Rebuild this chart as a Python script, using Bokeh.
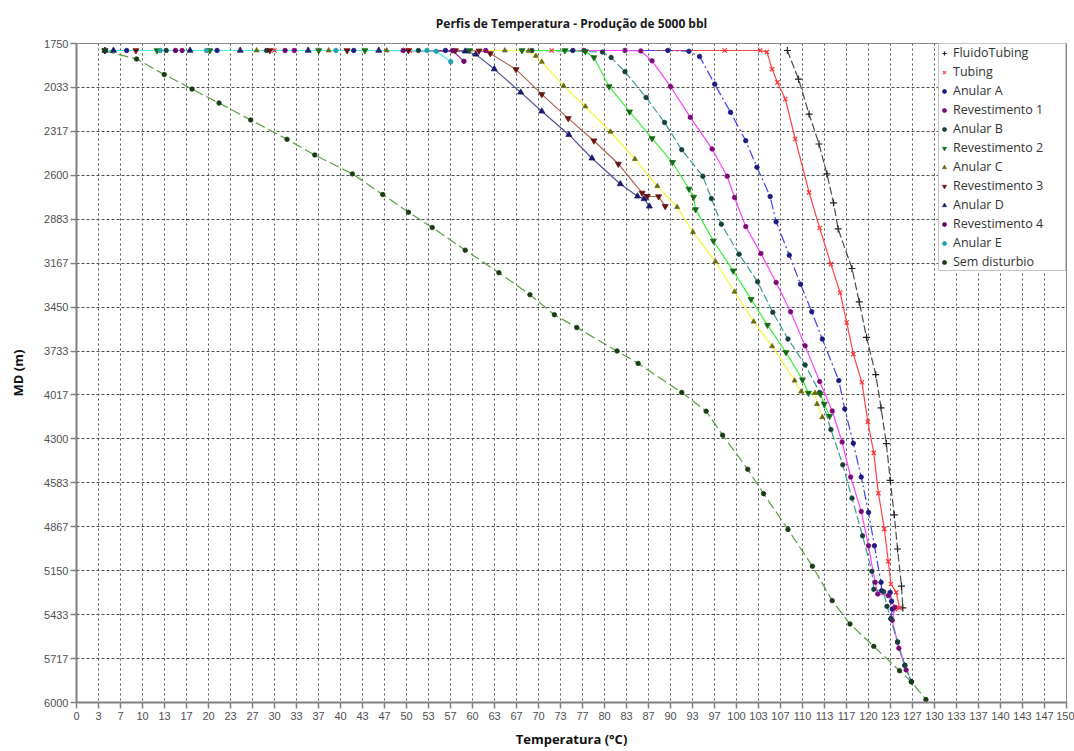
from bokeh.plotting import figure
from bokeh.models import FixedTicker, Legend, LegendItem, Range1d
from bokeh.embed import file_html
from bokeh.resources import INLINE

# ---------------- data (temperature in °C, MD in m) ----------------
fluido_T = [107.7, 109.4, 111.0, 112.5, 113.7, 114.7, 115.4, 117.5, 118.6, 119.7, 121.1, 121.9, 122.7, 123.3, 123.9, 124.4, 125.0, 125.2]
fluido_MD = [1795, 1980, 2205, 2398, 2591, 2778, 2946, 3201, 3416, 3645, 3886, 4100, 4330, 4567, 4790, 5010, 5250, 5390]

tubing_T = [4.3, 30.0, 50.5, 72.0, 98.2, 103.6, 104.6, 105.4, 106.2, 107.4, 108.9, 111.0, 112.6, 114.3, 115.7, 116.7, 117.7, 119.0, 119.9, 120.8, 121.5, 122.4, 123.0, 123.4, 124.2, 124.7, 124.0]
tubing_MD = [1795, 1795, 1795, 1795, 1795, 1795, 1804, 1915, 2001, 2108, 2366, 2710, 2940, 3173, 3356, 3549, 3753, 3935, 4190, 4390, 4650, 4880, 5090, 5236, 5290, 5390, 5398]

anularA_T = [4.3, 7.6, 21.3, 42.0, 55.9, 75.2, 89.6, 92.8, 94.4, 96.7, 99.1, 101.4, 103.1, 105.1, 106.0, 108.0, 109.7, 111.4, 113.0, 115.5, 116.4, 117.7, 118.9, 120.0, 120.9, 121.9, 122.0, 123.3, 123.5, 123.6, 123.4, 124.4, 125.5, 126.5]
anularA_MD = [1795, 1795, 1795, 1795, 1795, 1795, 1795, 1800, 1834, 2012, 2194, 2377, 2548, 2737, 2900, 3115, 3302, 3480, 3656, 3924, 4107, 4328, 4546, 4774, 4989, 5225, 5279, 5290, 5347, 5397, 5460, 5610, 5760, 5866]

rev1_T = [4.3, 16.0, 33.0, 62.0, 76.9, 83.1, 85.5, 87.2, 90.0, 93.0, 96.3, 98.6, 99.7, 101.4, 103.7, 106.0, 108.2, 110.4, 112.6, 114.5, 116.0, 117.3, 118.9, 120.0, 121.0, 121.4, 123.0, 124.0, 123.6, 124.6, 125.7]
rev1_MD = [1795, 1795, 1795, 1795, 1795, 1795, 1798, 1862, 2027, 2226, 2430, 2606, 2743, 2931, 3104, 3291, 3480, 3700, 3930, 4120, 4320, 4546, 4768, 4989, 5225, 5300, 5310, 5386, 5470, 5650, 5790]

anularB_T = [4.3, 13.6, 28.8, 51.8, 69.0, 79.7, 81.0, 83.1, 86.3, 89.1, 91.7, 94.9, 96.2, 97.7, 100.4, 103.2, 105.5, 107.8, 110.4, 112.6, 114.3, 116.1, 117.5, 119.1, 120.5, 120.8, 122.3, 122.8, 123.4, 124.4, 125.5, 126.5]
anularB_MD = [1795, 1795, 1795, 1795, 1795, 1805, 1840, 1932, 2098, 2259, 2435, 2606, 2750, 2915, 3109, 3287, 3484, 3656, 3823, 4000, 4240, 4467, 4682, 4925, 5154, 5270, 5285, 5380, 5460, 5610, 5760, 5866]

rev2_T = [4.3, 12.2, 20.2, 36.7, 43.7, 59.5, 67.5, 74.0, 77.1, 78.4, 80.7, 83.8, 87.2, 90.3, 92.8, 93.5, 93.8, 96.5, 99.5, 102.2, 104.7, 107.5, 110.0, 110.9, 112.7, 113.3, 114.1]
rev2_MD = [1795, 1795, 1795, 1795, 1795, 1795, 1795, 1795, 1801, 1840, 2027, 2190, 2362, 2516, 2688, 2740, 2820, 3023, 3216, 3399, 3566, 3742, 3918, 4004, 4010, 4075, 4154]

anularC_T = [4.3, 27.3, 38.2, 47.0, 64.9, 68.5, 69.6, 70.5, 73.8, 77.1, 80.9, 84.6, 88.0, 91.0, 93.4, 96.8, 99.7, 102.6, 105.4, 108.8, 109.8, 111.9, 112.2, 113.0]
anularC_MD = [1795, 1795, 1795, 1795, 1795, 1797, 1830, 1868, 2023, 2156, 2319, 2495, 2670, 2805, 2966, 3156, 3351, 3544, 3703, 3924, 3995, 4004, 4075, 4160]

rev3_T = [4.3, 9.0, 29.3, 41.0, 50.3, 57.4, 61.0, 62.7, 66.6, 70.5, 74.5, 78.4, 82.1, 85.7, 86.5, 88.2, 89.2]
rev3_MD = [1795, 1795, 1795, 1795, 1795, 1795, 1797, 1814, 1917, 2078, 2233, 2377, 2527, 2714, 2735, 2737, 2800]

anularD_T = [4.3, 5.6, 17.2, 24.8, 35.1, 45.8, 58.9, 60.5, 63.3, 67.3, 70.5, 74.6, 78.1, 82.4, 85.0, 86.0, 86.8]
anularD_MD = [1795, 1795, 1795, 1795, 1795, 1795, 1800, 1820, 1915, 2065, 2187, 2338, 2490, 2656, 2735, 2752, 2800]

rev4_T = [4.3, 15.0, 31.6, 49.5, 57.0, 58.7]
rev4_MD = [1795, 1795, 1795, 1795, 1797, 1865]

anularE_T = [4.3, 12.7, 19.7, 39.3, 53.1, 54.5, 56.7]
anularE_MD = [1795, 1795, 1795, 1795, 1795, 1800, 1868]

semdist_T = [4.3, 9.1, 13.3, 17.5, 21.6, 26.4, 31.9, 36.1, 41.8, 46.4, 50.3, 53.9, 58.9, 64.0, 68.7, 72.4, 75.8, 81.9, 85.1, 91.7, 95.4, 97.9, 101.7, 104.1, 107.8, 111.5, 114.5, 117.2, 120.8, 124.7, 126.5, 128.7]
semdist_MD = [1797, 1850, 1950, 2044, 2134, 2243, 2368, 2469, 2591, 2724, 2838, 2937, 3083, 3228, 3370, 3499, 3582, 3733, 3813, 4000, 4121, 4276, 4496, 4653, 4884, 5121, 5343, 5494, 5638, 5795, 5866, 5981]

series_names = ["FluidoTubing", "Tubing", "Anular A", "Revestimento 1", "Anular B", "Revestimento 2",
                "Anular C", "Revestimento 3", "Anular D", "Revestimento 4", "Anular E", "Sem disturbio"]

x_tick_labels = ["0", "3", "7", "10", "13", "17", "20", "23", "27", "30", "33", "37", "40", "43", "47", "50",
                 "53", "57", "60", "63", "67", "70", "73", "77", "80", "83", "87", "90", "93", "97", "100",
                 "103", "107", "110", "113", "117", "120", "123", "127", "130", "133", "137", "140", "143", "147", "150"]
y_tick_labels = ["1750", "2033", "2317", "2600", "2883", "3167", "3450", "3733", "4017", "4300", "4583",
                 "4867", "5150", "5433", "5717", "6000"]

# ---------------- styles ----------------
styles = [
    (fluido_T, fluido_MD, "#4a4a4a", "cross", "#202020", "8 3", 7),
    (tubing_T, tubing_MD, "#ff4444", "x", "#ff3030", "solid", 6),
    (anularA_T, anularA_MD, "#4040f0", "circle", "#1a1a80", "10 3 2 3", 4.5),
    (rev1_T, rev1_MD, "#ff40ff", "circle", "#7a0a7a", "solid", 4.5),
    (anularB_T, anularB_MD, "#3c9c96", "circle", "#16403c", "8 3", 4.5),
    (rev2_T, rev2_MD, "#3cf03c", "inverted_triangle", "#146a14", "solid", 6),
    (anularC_T, anularC_MD, "#f5f53c", "triangle", "#6a6a10", "solid", 5),
    (rev3_T, rev3_MD, "#b06050", "inverted_triangle", "#6a1010", "solid", 6),
    (anularD_T, anularD_MD, "#50509e", "triangle", "#1a1a70", "solid", 6),
    (rev4_T, rev4_MD, "#9a209a", "circle", "#6a006a", "solid", 4.5),
    (anularE_T, anularE_MD, "#40f0f0", "circle", "#20a0a8", "solid", 4.5),
    (semdist_T, semdist_MD, "#5a9e46", "circle", "#1a3a14", "10 4", 4.5),
]

W, H = 1074, 751
p = figure(width=W, height=H, output_backend="svg", toolbar_location=None,
           x_range=Range1d(0, 150), y_range=Range1d(6000, 1750),
           min_border_left=76, min_border_right=8, min_border_top=42, min_border_bottom=49,
           title="Perfis de Temperatura - Produção de 5000 bbl")
p.background_fill_color = "white"
p.border_fill_color = "white"
p.outline_line_color = "#8a8a8a"
p.outline_line_width = 1

p.title.align = "center"
p.title.text_font = "Open Sans"
p.title.text_font_size = "12px"
p.title.text_font_style = "bold"
p.title.text_color = "#1a1a1a"
p.title.standoff = 24

# ticks
x_pos = [i * 150 / 45 for i in range(len(x_tick_labels))]
y_pos = [1750 + j * 4250 / 15 for j in range(len(y_tick_labels))]
p.xaxis.ticker = FixedTicker(ticks=x_pos)
p.yaxis.ticker = FixedTicker(ticks=y_pos)
p.xaxis.major_label_overrides = {x: l for x, l in zip(x_pos, x_tick_labels)}
p.yaxis.major_label_overrides = {y: l for y, l in zip(y_pos, y_tick_labels)}

for ax in (p.xaxis, p.yaxis):
    ax.axis_line_color = "#808080"
    ax.axis_line_width = 2
    ax.major_tick_line_color = "#808080"
    ax.major_tick_line_width = 1.5
    ax.major_tick_out = 6
    ax.major_tick_in = 0
    ax.minor_tick_line_color = None
    ax.major_label_text_font = "Liberation Sans"
    ax.major_label_text_font_size = "11px"
    ax.major_label_text_color = "#505050"
    ax.axis_label_text_font = "Open Sans"
    ax.axis_label_text_font_style = "bold"
    ax.axis_label_text_font_size = "13px"
    ax.axis_label_text_color = "#111111"

p.xaxis.axis_label = "Temperatura (°C)"
p.yaxis.axis_label = "MD (m)"
p.xaxis.major_label_standoff = 3
p.yaxis.major_label_standoff = 2
p.yaxis.axis_label_standoff = 14
p.xaxis.axis_label_standoff = 7

p.xgrid.grid_line_color = "#505050"
p.xgrid.grid_line_dash = "2 3"
p.xgrid.grid_line_width = 1
p.ygrid.grid_line_color = "#505050"
p.ygrid.grid_line_dash = "3 2"
p.ygrid.grid_line_width = 1

for (xs, ys, lc, mk, mf, dash, ms) in styles:
    p.line(xs, ys, line_color=lc, line_width=1.2, line_dash=dash)

items = []
for name, (xs, ys, lc, mk, mf, dash, ms) in zip(series_names, styles):
    r = p.scatter(xs, ys, marker=mk, size=ms, fill_color=mf, line_color=mf,
                  line_width=1.2 if mk in ("cross", "x") else 0.8)
    items.append(LegendItem(label=name, renderers=[r]))

legend = Legend(items=items, location="top_right", margin=0, padding=0, spacing=2,
                glyph_width=10, glyph_height=16, label_height=16, label_width=112, label_standoff=4,
                label_text_font="Open Sans", label_text_font_size="12.5px", label_text_color="#333333",
                border_line_color="#8a8a8a", border_line_width=1, background_fill_color="white",
                background_fill_alpha=1.0)
p.add_layout(legend)

open("out.html", "w").write(file_html(p, INLINE))
